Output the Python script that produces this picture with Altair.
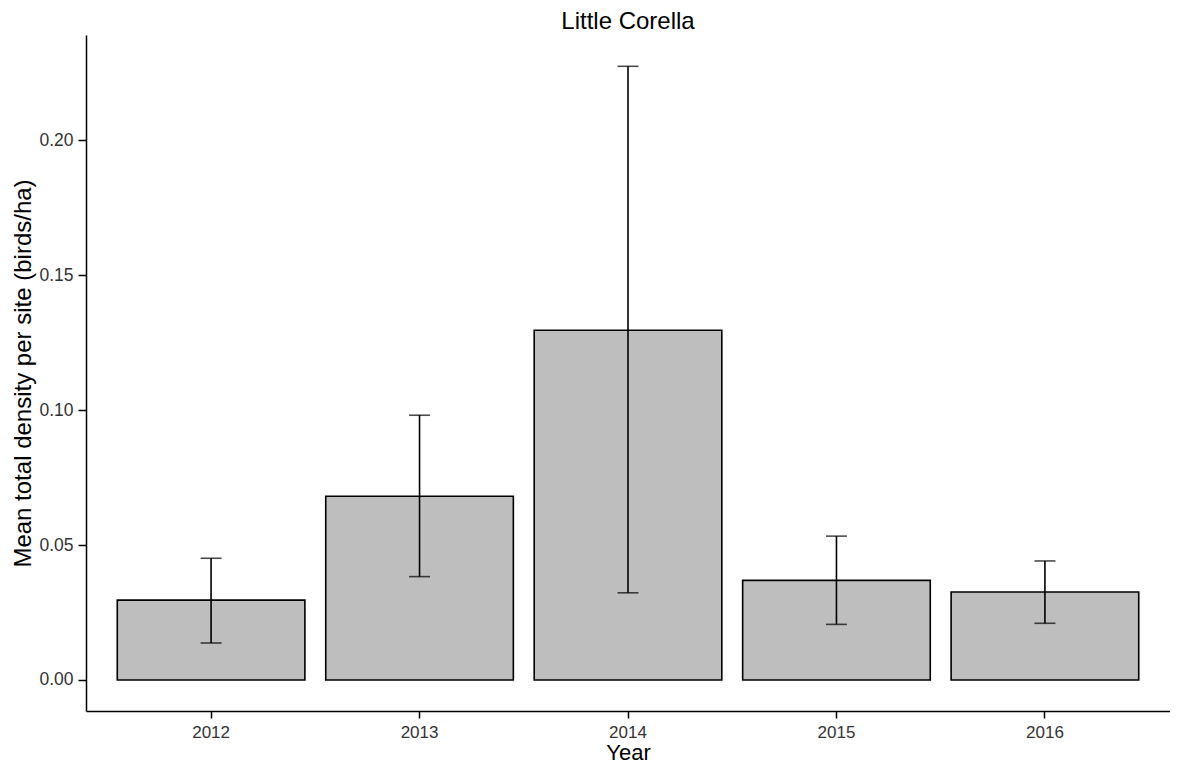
import altair as alt
import pandas as pd

years = ["2012", "2013", "2014", "2015", "2016"]
means = [0.0296, 0.0681, 0.1296, 0.0369, 0.0326]
upper = [0.0451, 0.0981, 0.2274, 0.0533, 0.0441]
lower = [0.0137, 0.0383, 0.0323, 0.0206, 0.0210]

df = pd.DataFrame({"Year": years, "mean": means, "upper": upper, "lower": lower})

FONT = "Liberation Sans"

x = alt.X("Year:N", title="Year",
          scale=alt.Scale(paddingInner=0.1, paddingOuter=0.15),
          axis=alt.Axis(labelAngle=0, labelFontSize=17, labelColor="#333333",
                        titleFontSize=22, titleFontWeight="normal", titleColor="#000000",
                        tickSize=7, tickWidth=1.5, tickColor="#000000",
                        domainColor="#000000", domainWidth=1.5,
                        labelPadding=6, titlePadding=2, labelFont=FONT, titleFont=FONT))

yscale = alt.Scale(domain=[-0.0115, 0.239], nice=False, zero=False)
y = alt.Y("mean:Q", title="Mean total density per site (birds/ha)", scale=yscale,
          axis=alt.Axis(values=[0, 0.05, 0.1, 0.15, 0.2], format=".2f", grid=False,
                        labelFontSize=17.5, labelColor="#333333",
                        titleFontSize=24, titleFontWeight="normal", titleColor="#000000",
                        tickSize=8, tickWidth=1.5, tickColor="#000000",
                        domainColor="#000000", domainWidth=1.5,
                        labelPadding=5, titlePadding=3, labelFont=FONT, titleFont=FONT))

base = alt.Chart(df)

bars = base.mark_bar(fill="#BEBEBE", stroke="#000000", strokeWidth=1.6).encode(
    x=x, y=y, y2=alt.datum(0)
)

rules = base.mark_rule(color="#000000", strokeWidth=1.6).encode(
    x="Year:N", y=alt.Y("lower:Q", scale=yscale), y2="upper:Q"
)

caps_hi = base.mark_tick(color="#000000", thickness=1.6, size=21, orient="horizontal").encode(
    x="Year:N", y=alt.Y("upper:Q", scale=yscale)
)
caps_lo = base.mark_tick(color="#000000", thickness=1.6, size=21, orient="horizontal").encode(
    x="Year:N", y=alt.Y("lower:Q", scale=yscale)
)

chart = alt.layer(bars, rules, caps_hi, caps_lo).properties(
    width=1084, height=676,
    title=alt.TitleParams("Little Corella", fontSize=24, font=FONT, fontWeight="normal",
                          color="#000000", anchor="middle", offset=1),
    padding={"left": 78, "top": 27, "right": 0, "bottom": 50},
    autosize=alt.AutoSizeParams(type="none"),
).configure(background="white").configure_view(stroke=None)

chart.save("out.html", embed_options={"renderer": "svg", "actions": False})
